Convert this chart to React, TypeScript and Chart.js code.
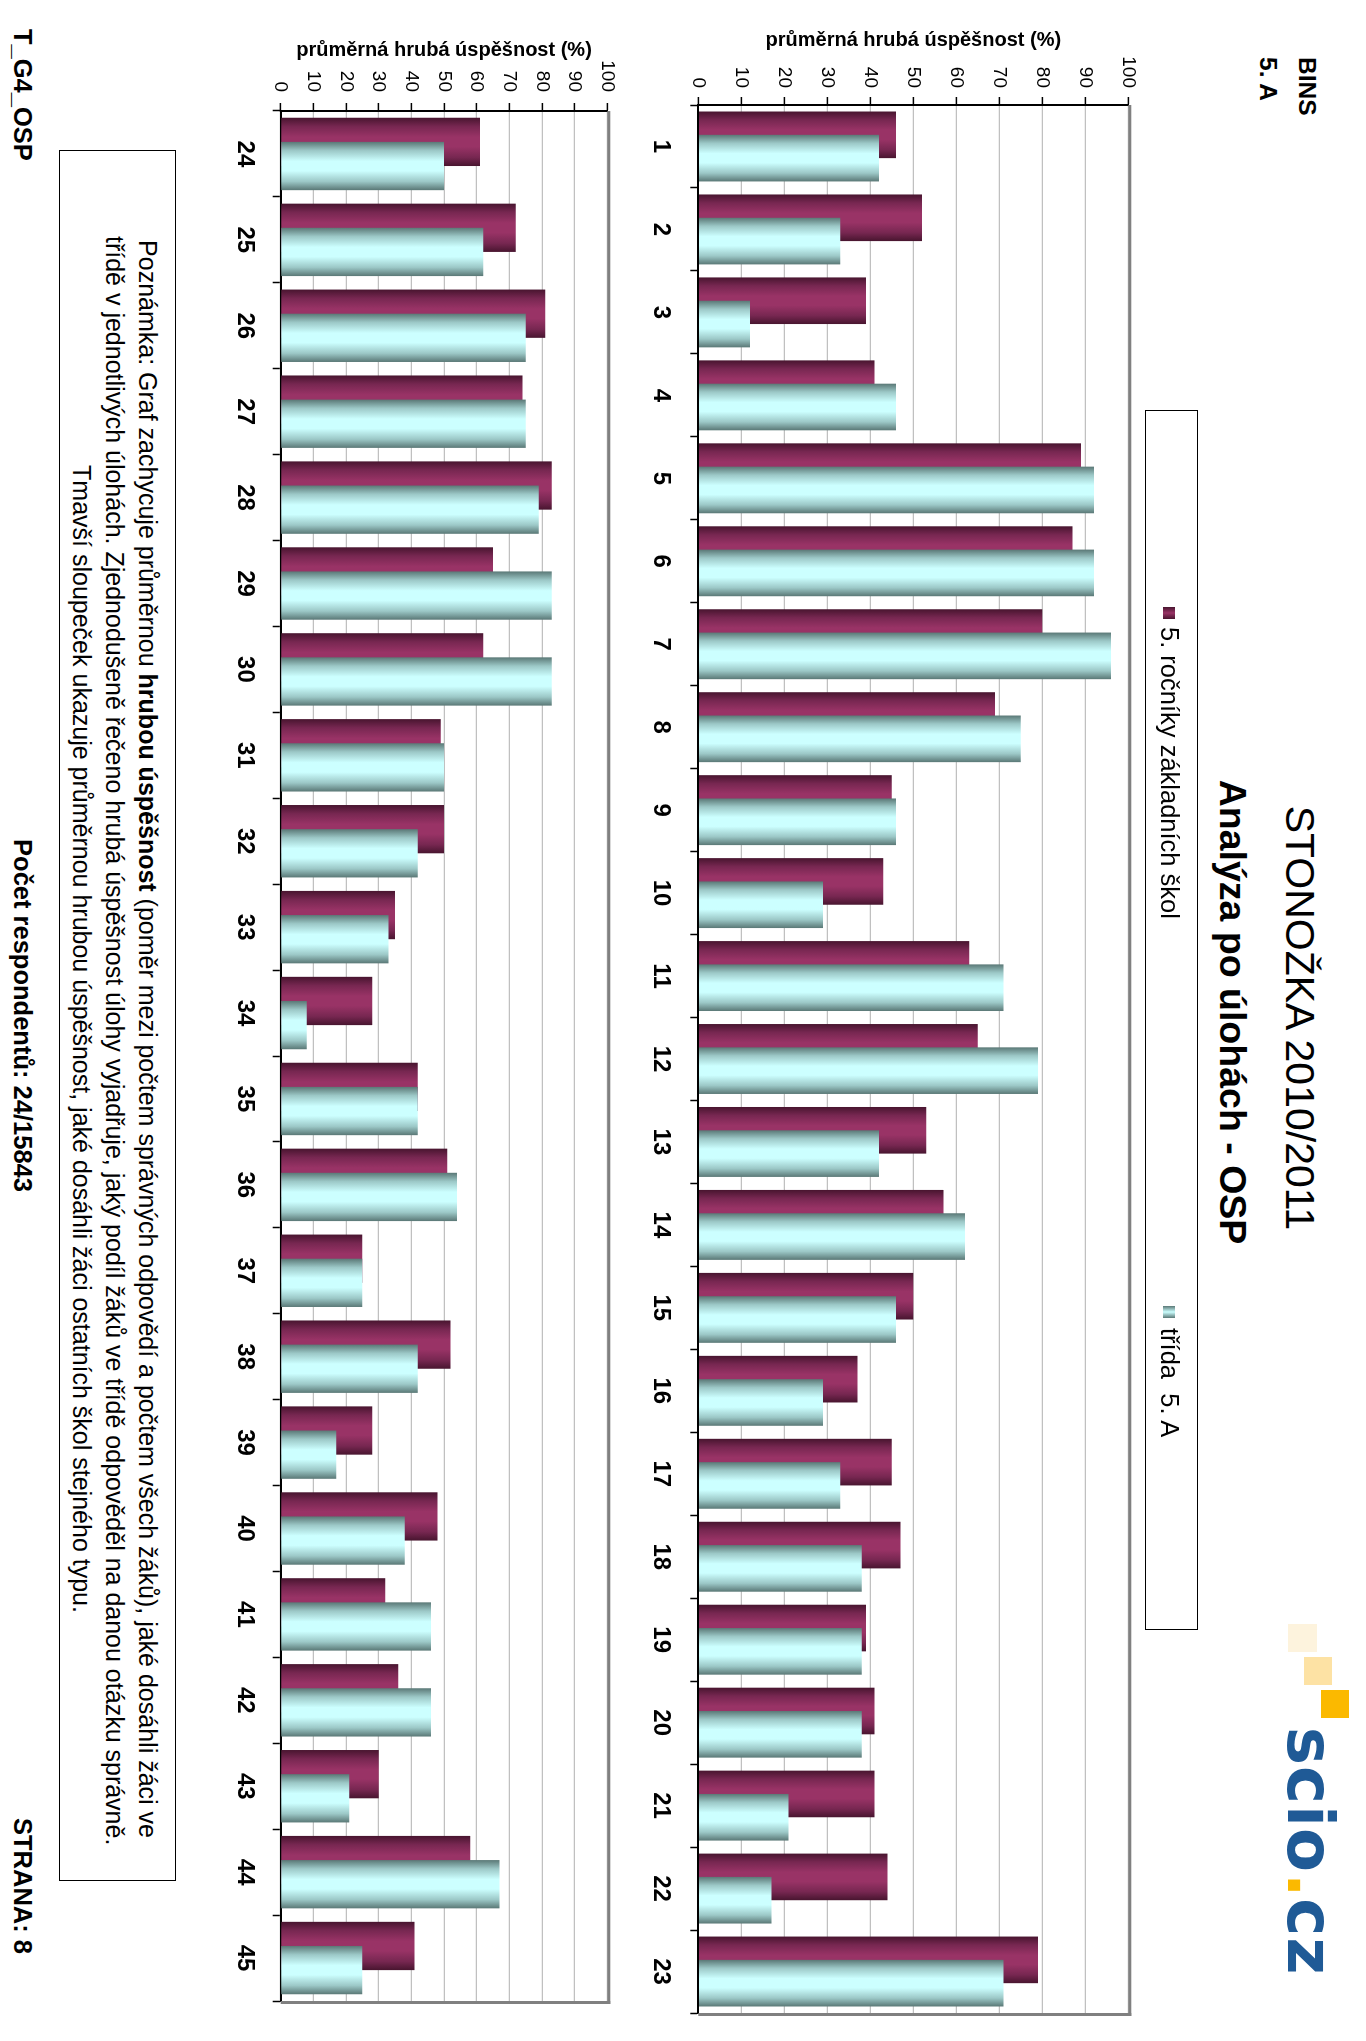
import React, { useEffect, useRef } from 'react';
import { Chart, registerables } from 'chart.js';

Chart.register(...registerables);

const FONT = "'Liberation Sans', Arial, Helvetica, sans-serif";

// ---- data ----
const tasksA = ['1', '2', '3', '4', '5', '6', '7', '8', '9', '10', '11', '12', '13', '14', '15', '16', '17', '18', '19', '20', '21', '22', '23'];
const tasksB = ['24', '25', '26', '27', '28', '29', '30', '31', '32', '33', '34', '35', '36', '37', '38', '39', '40', '41', '42', '43', '44', '45'];
const schoolsA = [46, 52, 39, 41, 89, 87, 80, 69, 45, 43, 63, 65, 53, 57, 50, 37, 45, 47, 39, 41, 41, 44, 79];
const classA = [42, 33, 12, 46, 92, 92, 96, 75, 46, 29, 71, 79, 42, 62, 46, 29, 33, 38, 38, 38, 21, 17, 71];
const schoolsB = [61, 72, 81, 74, 83, 65, 62, 49, 50, 35, 28, 42, 51, 25, 52, 28, 48, 32, 36, 30, 58, 41];
const classB = [50, 62, 75, 75, 79, 83, 83, 50, 42, 33, 8, 42, 54, 25, 42, 17, 38, 46, 46, 21, 67, 25];
const valueTicks = [0, 10, 20, 30, 40, 50, 60, 70, 80, 90, 100];
const seriesNames = ['5. ročníky základních škol', 'třída\u00a0 5. A'];
const axisTitle = 'průměrná hrubá úspěšnost (%)';

const CAT_PCT = 0.562;
const BAR_PCT = 2;

const PALETTE = [
  { dark: '#48152f', mid: '#772751', light: '#993366' },
  { dark: '#5a7876', mid: '#9cc8c7', light: '#ccffff' },
];

function barFill(dsIndex: number) {
  return (c: any) => {
    const pal = PALETTE[dsIndex];
    if (c.type !== 'data') return pal.light;
    const chart = c.chart;
    const x = chart.scales.x;
    if (!x || !x.width) return pal.light;
    const n = chart.data.labels.length;
    const catW = x.width / n;
    const chunk = (catW * CAT_PCT) / 2;
    const start = x.getPixelForValue(c.dataIndex) - chunk;
    const center = start + chunk * dsIndex + chunk / 2;
    const size = chunk * BAR_PCT;
    const g = chart.ctx.createLinearGradient(center - size / 2, 0, center + size / 2, 0);
    g.addColorStop(0, pal.dark);
    g.addColorStop(0.18, pal.mid);
    g.addColorStop(0.4, pal.light);
    g.addColorStop(0.6, pal.light);
    g.addColorStop(0.82, pal.mid);
    g.addColorStop(1, pal.dark);
    return g;
  };
}

const framePlugin = {
  id: 'frame',
  beforeDatasetsDraw(chart: any) {
    for (let i = 0; i < chart.data.datasets.length; i++) {
      const meta = chart.getDatasetMeta(i);
      if (meta.hidden) continue;
      meta.controller.draw();
    }
    return false;
  },
  afterDraw(chart: any) {
    const { ctx, chartArea } = chart;
    const { left, right, top, bottom } = chartArea;
    ctx.save();
    ctx.fillStyle = '#808080';
    ctx.fillRect(left, top - 3, right - left + 3, 3);
    ctx.fillRect(right, top - 3, 3, bottom - top + 3);
    ctx.restore();
  },
};

type Geo = {
  top: number;
  height: number;
  padTop: number;
  padRight: number;
  yWidth: number;
  xHeight: number;
  titlePad: number;
  yPad: number;
  xPad: number;
};

function BarChart({ labels, school, cls, geo }: { labels: string[]; school: number[]; cls: number[]; geo: Geo }) {
  const ref = useRef<HTMLCanvasElement | null>(null);
  useEffect(() => {
    if (!ref.current) return;
    const chart = new Chart(ref.current, {
      type: 'bar',
      data: {
        labels,
        datasets: [
          { label: seriesNames[0], data: school, backgroundColor: barFill(0), borderWidth: 0 },
          { label: seriesNames[1], data: cls, backgroundColor: barFill(1), borderWidth: 0 },
        ],
      },
      options: {
        responsive: false,
        animation: false,
        devicePixelRatio: 1,
        events: [],
        layout: { padding: { left: 0, right: geo.padRight, top: geo.padTop, bottom: 0 } },
        datasets: { bar: { categoryPercentage: CAT_PCT, barPercentage: BAR_PCT } },
        plugins: { legend: { display: false }, tooltip: { enabled: false } },
        scales: {
          x: {
            grid: {
              display: true,
              drawOnChartArea: false,
              drawTicks: true,
              tickLength: 8,
              color: '#000',
              tickColor: '#000',
              tickWidth: 1.5,
              offset: true,
            },
            border: { display: true, color: '#000', width: 2 },
            ticks: {
              font: { family: FONT, size: 24, weight: 'bold' },
              color: '#000',
              padding: geo.xPad,
              maxRotation: 0,
              minRotation: 0,
              autoSkip: false,
            },
            afterFit: (s: any) => {
              s.height = geo.xHeight;
            },
          },
          y: {
            min: valueTicks[0],
            max: valueTicks[valueTicks.length - 1],
            ticks: {
              stepSize: valueTicks[1] - valueTicks[0],
              font: { family: FONT, size: 19 },
              color: '#000',
              padding: geo.yPad,
            },
            grid: { color: '#c0c0c0', lineWidth: 1.2, tickColor: '#000', tickLength: 8, tickWidth: 1.5 },
            border: { display: true, color: '#000', width: 2 },
            title: {
              display: true,
              text: axisTitle,
              color: '#000',
              font: { family: FONT, size: 20, weight: 'bold' },
              padding: { top: geo.titlePad, bottom: 0 },
            },
            afterFit: (s: any) => {
              s.width = geo.yWidth;
            },
          },
        },
      } as any,
      plugins: [framePlugin],
    });
    return () => chart.destroy();
  }, []);
  return (
    <canvas
      ref={ref}
      width={2041}
      height={geo.height}
      style={{ position: 'absolute', left: 0, top: geo.top, width: 2041, height: geo.height }}
    />
  );
}

const geoA: Geo = { top: 180, height: 545, padTop: 57.7, padRight: 28, yWidth: 105, xHeight: 57.3, titlePad: 28, yPad: 9, xPad: 15 };
const geoB: Geo = { top: 725, height: 415, padTop: 33.7, padRight: 40, yWidth: 111, xHeight: 54.7, titlePad: 38, yPad: 11, xPad: 14 };

const abs = (o: React.CSSProperties): React.CSSProperties => ({ position: 'absolute', whiteSpace: 'nowrap', ...o });

export default function App() {
  return (
    <div style={{ position: 'fixed', left: 0, top: 0, width: 1366, height: 2041, overflow: 'hidden', background: '#fff' }}>
      <div
        style={{
          position: 'absolute',
          left: 0,
          top: 0,
          width: 2041,
          height: 1366,
          transformOrigin: '0 0',
          transform: 'translate(1366px, 0) rotate(90deg)',
          fontFamily: FONT,
          color: '#000',
          background: '#fff',
        }}
      >
        {/* header */}
        <div style={abs({ left: 57, top: 44, fontSize: 24.5, fontWeight: 'bold', lineHeight: '30px' })}>BINS</div>
        <div style={abs({ left: 57, top: 83, fontSize: 24.5, fontWeight: 'bold', lineHeight: '30px' })}>5. A</div>
        <div style={abs({ left: 0, width: 2036, top: 42, fontSize: 41, lineHeight: '48px', textAlign: 'center' })}>STONOŽKA 2010/2011</div>
        <div style={abs({ left: 0, width: 2024, top: 111, fontSize: 37.5, fontWeight: 'bold', lineHeight: '44px', textAlign: 'center' })}>
          Analýza po úlohách - OSP
        </div>

        {/* logo */}
        <div style={abs({ left: 1624, top: 49, width: 28, height: 29, background: '#fdf3dd' })} />
        <div style={abs({ left: 1657, top: 34, width: 28, height: 28, background: '#fde2a4' })} />
        <div style={abs({ left: 1690, top: 17, width: 28, height: 28, background: '#fbb900' })} />
        <div
          style={abs({
            left: 1727,
            top: 24,
            fontFamily: "'DejaVu Sans', sans-serif",
            fontWeight: 'bold',
            fontSize: 64,
            lineHeight: '64px',
            color: '#1f5a96',
            letterSpacing: 1,
          })}
        >
          scio<span style={{ color: '#fbb900' }}>.</span>cz
        </div>

        {/* charts */}
        <BarChart labels={tasksA} school={schoolsA} cls={classA} geo={geoA} />
        <BarChart labels={tasksB} school={schoolsB} cls={classB} geo={geoB} />

        {/* legend */}
        <div style={abs({ left: 410, top: 168, width: 1220, height: 53, border: '1px solid #000', boxSizing: 'border-box' })} />
        <div style={abs({ left: 607, top: 191, width: 12, height: 12, background: 'linear-gradient(to right, #48152f, #993366, #48152f)' })} />
        <div style={abs({ left: 627, top: 180, fontSize: 25.5, lineHeight: '32px' })}>{seriesNames[0]}</div>
        <div style={abs({ left: 1306, top: 191, width: 12, height: 12, background: 'linear-gradient(to right, #5a7876, #ccffff, #5a7876)' })} />
        <div style={abs({ left: 1328, top: 180, fontSize: 25.5, lineHeight: '32px' })}>{seriesNames[1]}</div>

        {/* note */}
        <div style={abs({ left: 150, top: 1190, width: 1731, height: 117, border: '1.3px solid #000', boxSizing: 'border-box' })} />
        <div style={abs({ left: 236, width: 1606, top: 1202, fontSize: 25, lineHeight: '33px', textAlign: 'center' })}>
          Poznámka: Graf zachycuje průměrnou <b>hrubou úspěšnost</b> (poměr mezi počtem správných odpovědí a počtem všech žáků), jaké dosáhli žáci ve
          <br />
          třídě v jednotlivých úlohách. Zjednodušeně řečeno hrubá úspěšnost úlohy vyjadřuje, jaký podíl žáků ve třídě odpověděl na danou otázku správně.
          <br />
          Tmavší sloupeček ukazuje průměrnou hrubou úspěšnost, jaké dosáhli žáci ostatních škol stejného typu.
        </div>

        {/* footer */}
        <div style={abs({ left: 29, top: 1328, fontSize: 25.5, fontWeight: 'bold', lineHeight: '30px' })}>T_G4_OSP</div>
        <div style={abs({ left: 0, width: 2031, top: 1328, fontSize: 25.5, fontWeight: 'bold', lineHeight: '30px', textAlign: 'center' })}>
          Počet respondentů: 24/15843
        </div>
        <div style={abs({ left: 1818, top: 1328, fontSize: 25.5, fontWeight: 'bold', lineHeight: '30px' })}>STRANA: 8</div>
      </div>
    </div>
  );
}
